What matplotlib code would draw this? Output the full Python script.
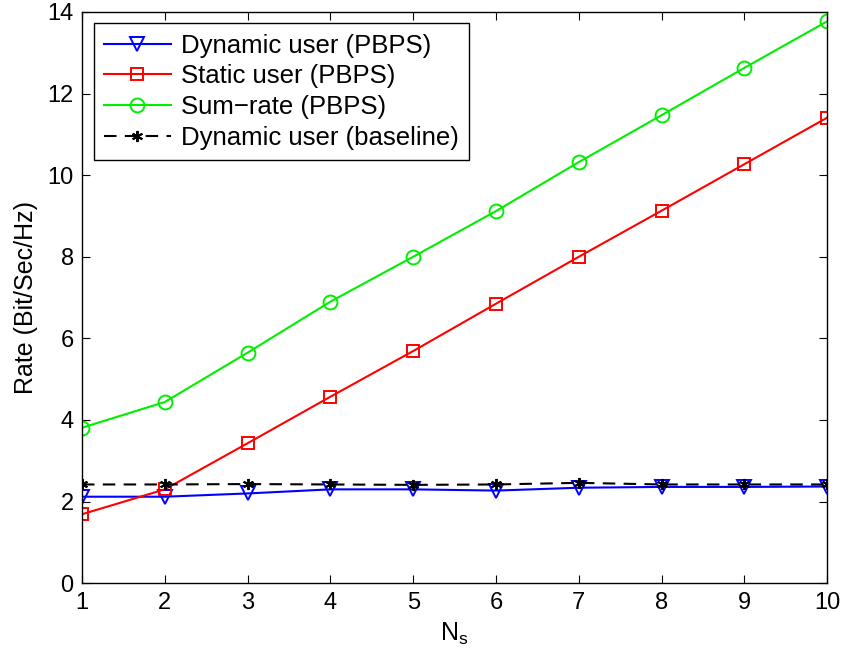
import matplotlib
matplotlib.use("Agg")
import matplotlib.pyplot as plt

plt.rcParams["font.family"] = ["Liberation Sans", "DejaVu Sans"]

ns = [1, 2, 3, 4, 5, 6, 7, 8, 9, 10]
dynamic_pbps = [2.12, 2.12, 2.20, 2.30, 2.30, 2.27, 2.34, 2.36, 2.36, 2.37]
static_pbps = [1.69, 2.30, 3.43, 4.57, 5.69, 6.85, 8.00, 9.13, 10.27, 11.41]
sum_rate = [3.81, 4.44, 5.65, 6.90, 8.00, 9.12, 10.32, 11.47, 12.63, 13.77]
dynamic_base = [2.42, 2.42, 2.43, 2.42, 2.41, 2.42, 2.46, 2.42, 2.42, 2.42]

fig = plt.figure(figsize=(8.45, 6.62), dpi=100)
ax = fig.add_axes([0.097, 0.119, 0.882, 0.863])

ax.plot(ns, dynamic_pbps, color="#0000ff", marker="v", mfc="none", ms=10, mew=1.4,
        lw=1.5, label="Dynamic user (PBPS)")
ax.plot(ns, static_pbps, color="#ff0000", marker="s", mfc="none", ms=9, mew=1.4,
        lw=1.5, label="Static user (PBPS)")
ax.plot(ns, sum_rate, color="#00ee00", marker="o", mfc="none", ms=10, mew=1.4,
        lw=1.5, label="Sum\u2212rate (PBPS)")
ax.plot(ns, dynamic_base, color="black", ls=(0, (6, 4)), marker=(6, 2, 0), ms=8,
        mew=1.4, lw=1.5, label="Dynamic user (baseline)")

ax.set_xlim(1, 10)
ax.set_ylim(0, 14)
ax.set_xticks(ns)
ax.set_yticks(range(0, 15, 2))
ax.tick_params(direction="in", top=True, right=True, labelsize=17, length=6, pad=6)
for s in ax.spines.values():
    s.set_linewidth(1.0)

ax.set_xlabel("N$_\\mathregular{s}$", fontsize=18, labelpad=5)
ax.set_ylabel("Rate (Bit/Sec/Hz)", fontsize=18, labelpad=7)

leg = ax.legend(loc="upper left", fontsize=18.5, fancybox=False, edgecolor="black",
                framealpha=1, borderaxespad=0.45, handlelength=2.6, borderpad=0.4,
                labelspacing=0.26, handletextpad=0.4)
leg.get_frame().set_linewidth(1.0)

fig.savefig("out.png", dpi=100)
